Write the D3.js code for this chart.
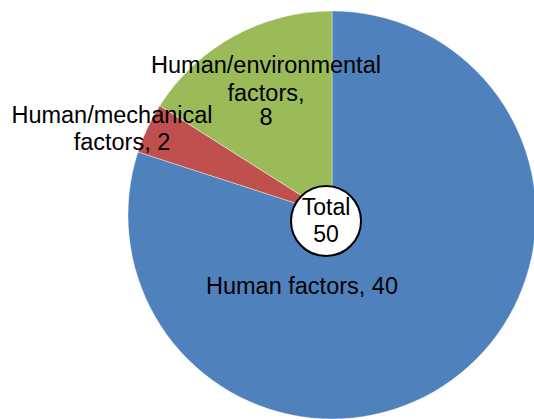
<!DOCTYPE html>
<html><head><meta charset="utf-8">
<script src="https://cdn.jsdelivr.net/npm/d3@7"></script>
<style>html,body{margin:0;padding:0;background:#fff;overflow:hidden}</style>
</head><body>
<svg id="chart" width="534" height="419"></svg>
<script>
const categories = ["Human factors", "Human/mechanical factors", "Human/environmental factors"];
const values = [40, 2, 8];
const colors = ["#4F81BD", "#C0504D", "#9BBB59"];
// label lines per category (wrapping as in the original)
const labelLines = [
  ["Human factors, 40"],
  ["Human/mechanical", "factors, 2"],
  ["Human/environmental", "factors,", "8"]
];
const totalLabel = "Total";

const svg = d3.select("#chart");
const cx = 332, cy = 215, R = 204;
const font = "Liberation Sans, Arial, sans-serif";

const pie = d3.pie().sort(null).value(d => d)(values);
const arc = d3.arc().innerRadius(0).outerRadius(R);
const g = svg.append("g").attr("transform", `translate(${cx},${cy})`);
g.selectAll("path").data(pie).join("path")
  .attr("d", arc)
  .attr("fill", (d, i) => colors[i])
  .attr("stroke", "#fff").attr("stroke-width", 0.4);

// label positions (relative layout offsets)
const labelPos = [
  {x: 302, y: 294, dy: 0},
  [{x: 112, y: 123}, {x: 122, y: 150}],
  [{x: 266, y: 73}, {x: 266, y: 101}, {x: 266, y: 125}]
];
labelLines.forEach((lines, i) => {
  lines.forEach((t, j) => {
    const p = Array.isArray(labelPos[i]) ? labelPos[i][j] : labelPos[i];
    svg.append("text").attr("x", p.x).attr("y", p.y)
      .attr("text-anchor", "middle")
      .attr("font-family", font).attr("font-size", 23.5)
      .attr("fill", "#000").text(t);
  });
});

// total circle
const total = d3.sum(values);
const tc = {x: 326, y: 221, r: 35};
svg.append("circle").attr("cx", tc.x).attr("cy", tc.y).attr("r", tc.r)
  .attr("fill", "#fff").attr("stroke", "#000").attr("stroke-width", 2);
svg.append("text").attr("x", tc.x).attr("y", 215).attr("text-anchor", "middle")
  .attr("font-family", font).attr("font-size", 23).text(totalLabel);
svg.append("text").attr("x", tc.x).attr("y", 242).attr("text-anchor", "middle")
  .attr("font-family", font).attr("font-size", 23).text(total);
</script>
</body></html>
